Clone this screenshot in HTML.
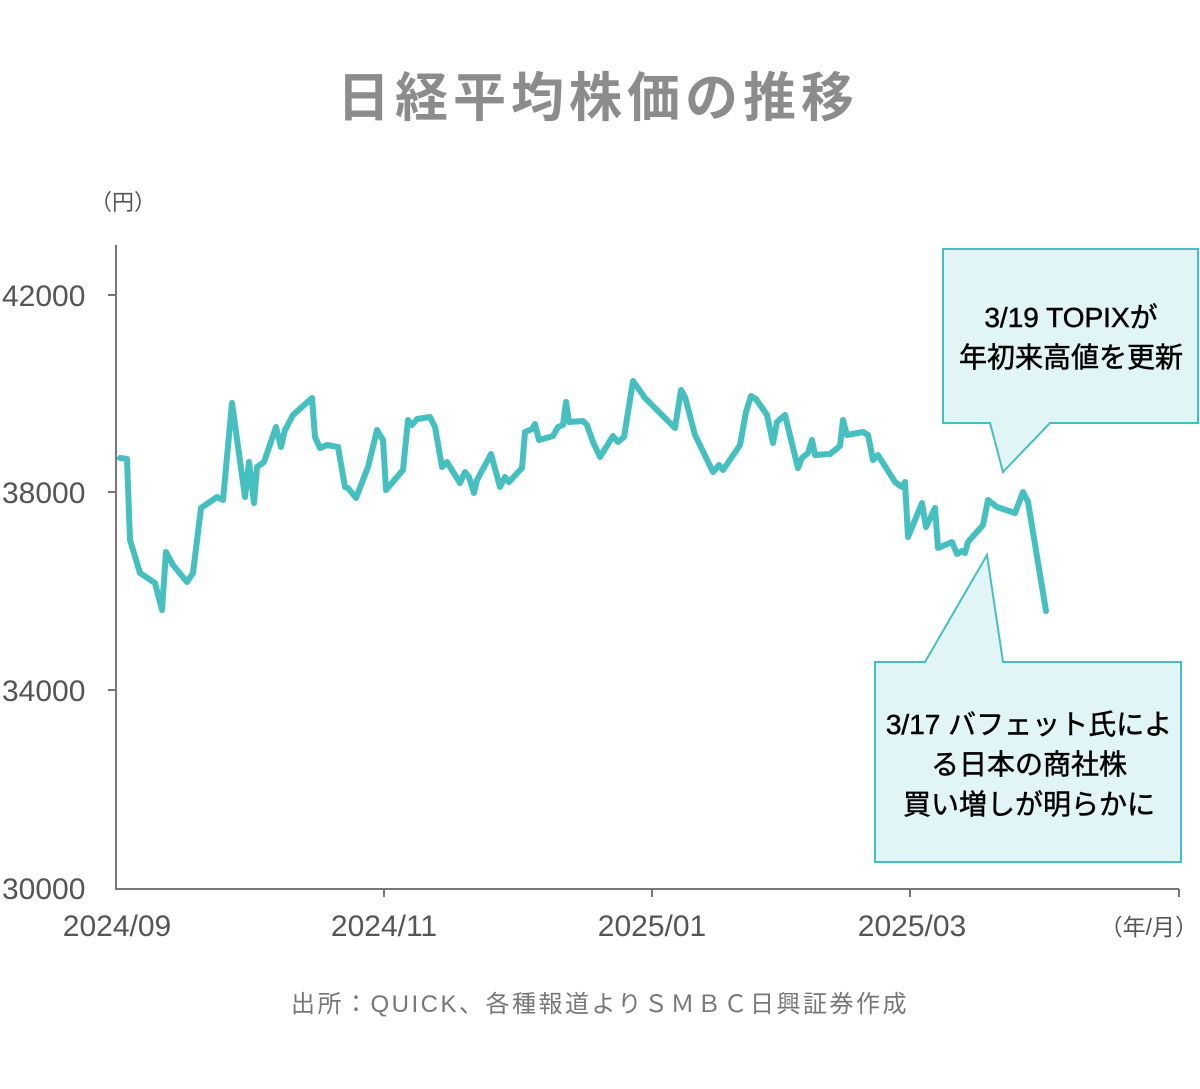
<!DOCTYPE html>
<html><head><meta charset="utf-8"><style>
body{margin:0;background:#fff;}
svg text{font-family:"Liberation Sans","Noto Sans CJK JP",sans-serif;}
</style></head><body>
<svg width="1200" height="1084" viewBox="0 0 1200 1084" xmlns="http://www.w3.org/2000/svg">
<rect width="1200" height="1084" fill="#fff"/>
<text x="598" y="116" text-anchor="middle" font-size="53" font-weight="bold" fill="#8c8c8c" letter-spacing="5">日経平均株価の推移</text>
<text x="90" y="210" font-size="22" fill="#555">（円）</text>
<g stroke="#777" stroke-width="2" fill="none">
<line x1="116" y1="245" x2="116" y2="890"/>
<line x1="116" y1="889" x2="1179" y2="889"/>
<line x1="108" y1="295" x2="116" y2="295"/>
<line x1="108" y1="492" x2="116" y2="492"/>
<line x1="108" y1="690" x2="116" y2="690"/>
<line x1="384" y1="889" x2="384" y2="897"/>
<line x1="652" y1="889" x2="652" y2="897"/>
<line x1="910" y1="889" x2="910" y2="897"/>
<line x1="1179" y1="889" x2="1179" y2="897"/>
</g>
<g font-size="30" fill="#555">
<text x="2" y="306">42000</text>
<text x="2" y="503">38000</text>
<text x="2" y="701">34000</text>
<text x="2" y="899">30000</text>
<text x="117" y="936" text-anchor="middle">2024/09</text>
<text x="384" y="936" text-anchor="middle">2024/11</text>
<text x="652" y="936" text-anchor="middle">2025/01</text>
<text x="912" y="936" text-anchor="middle">2025/03</text>
<text x="1198" y="935" text-anchor="end" font-size="23">（年/月）</text>
</g>
<polyline fill="none" stroke="#45bfbf" stroke-width="6" stroke-linejoin="round" stroke-linecap="round" points="
120,458 127,459 130,540 140,573 155,583 162,610 166,552 173,565 187,582 193,573 201,508 217,497 223,500 232,403 245,497 249,462 254,503 257,467 264,462 276,427 281,447 285,430 293,415 312,398 315,437 320,448 327,445 338,447 345,487 348,488 356,498 368,467 377,430 383,440 386,490 403,470 408,420 412,425 417,419 430,417 435,427 442,467 447,462 460,483 465,472 469,477 474,493 477,480 491,454 500,487 505,477 509,482 522,468 525,432 532,429 535,424 539,440 553,436 558,427 563,425 566,402 569,422 583,421 587,425 593,442 600,457 613,436 618,442 624,437 633,381 645,398 675,428 681,390 685,397 695,435 713,472 719,465 723,470 740,445 746,412 751,396 756,399 767,415 773,443 777,422 785,415 798,468 802,458 808,453 812,440 815,455 830,454 840,446 843,420 847,435 863,432 868,435 873,460 878,455 895,482 902,487 905,482 908,537 922,503 926,527 935,508 938,548 952,542 957,554 962,551 965,553 968,542 983,525 988,500 997,507 1015,513 1023,492 1028,502 1046,611"/>
<path d="M943,249 H1198 V423 H1050 L1003,472 L990,423 H943 Z" fill="#e1f4f6" stroke="#45bfbf" stroke-width="2"/>
<path d="M875,662 H925 L987,555 L1003,662 H1181 V862 H875 Z" fill="#e1f4f6" stroke="#45bfbf" stroke-width="2"/>
<g font-size="28" fill="#000" text-anchor="middle" stroke="#000" stroke-width="0.5">
<text x="1071" y="327">3/19 TOPIXが</text>
<text x="1071" y="367">年初来高値を更新</text>
<text x="1029" y="734">3/17 バフェット氏によ</text>
<text x="1029" y="774">る日本の商社株</text>
<text x="1029" y="814">買い増しが明らかに</text>
</g>
<text x="600" y="1012" text-anchor="middle" font-size="24" fill="#777" letter-spacing="2.5">出所：QUICK、各種報道よりＳＭＢＣ日興証券作成</text>
</svg>
</body></html>
